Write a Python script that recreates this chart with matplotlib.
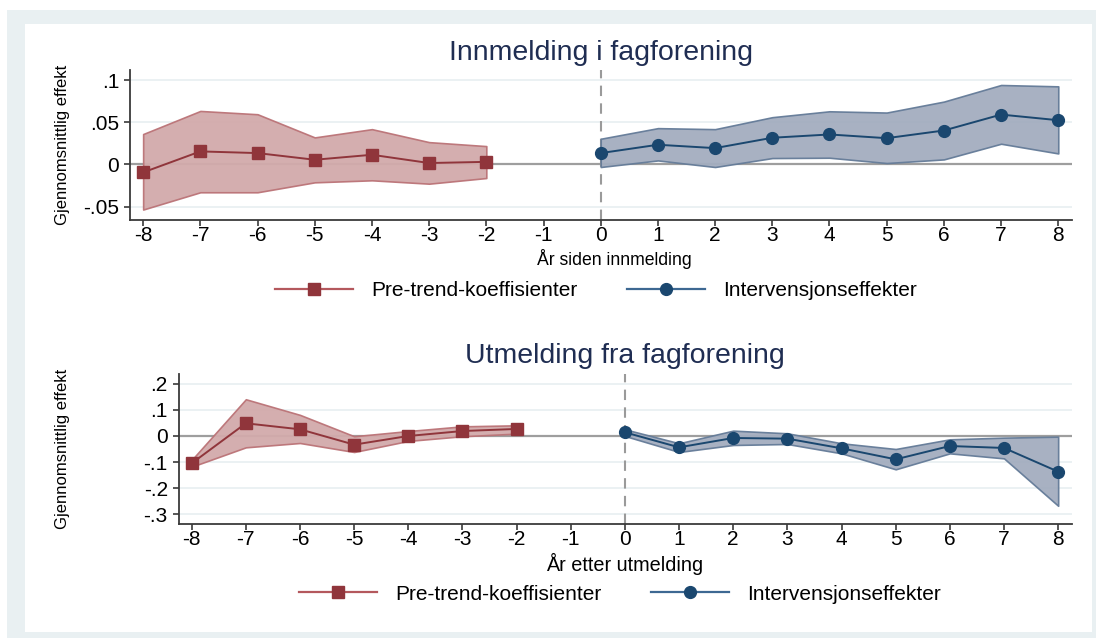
import matplotlib
matplotlib.use("Agg")
import matplotlib.pyplot as plt
from matplotlib.patches import Rectangle
from matplotlib.lines import Line2D

plt.rcParams['font.family'] = ['Liberation Sans', 'DejaVu Sans']

# ---- data: event-study coefficients with confidence bands ----
pre_years = [-8, -7, -6, -5, -4, -3, -2]
post_years = [0, 1, 2, 3, 4, 5, 6, 7, 8]

# Panel 1: joining a union
inn_pre = [-0.0095, 0.0154, 0.0134, 0.0055, 0.0114, 0.0016, 0.0030]
inn_pre_hi = [0.0360, 0.0634, 0.0595, 0.0320, 0.0418, 0.0264, 0.0217]
inn_pre_lo = [-0.0536, -0.0331, -0.0331, -0.0213, -0.0189, -0.0229, -0.0162]
inn_post = [0.0134, 0.0233, 0.0193, 0.0316, 0.0355, 0.0311, 0.0402, 0.0591, 0.0524]
inn_post_hi = [0.0304, 0.0430, 0.0418, 0.0560, 0.0630, 0.0615, 0.0745, 0.0942, 0.0926]
inn_post_lo = [-0.0031, 0.0047, -0.0031, 0.0075, 0.0079, 0.0016, 0.0059, 0.0245, 0.0130]

# Panel 2: leaving a union
ut_pre = [-0.105, 0.0487, 0.0256, -0.0333, 0.0000, 0.0190, 0.0270]
ut_pre_hi = [-0.092, 0.141, 0.081, -0.001, 0.019, 0.037, 0.041]
ut_pre_lo = [-0.118, -0.0436, -0.027, -0.0615, -0.019, -0.001, 0.009]
ut_post = [0.014, -0.0436, -0.0077, -0.0103, -0.0474, -0.0897, -0.0385, -0.046, -0.137]
ut_post_hi = [0.0256, -0.028, 0.0205, 0.0103, -0.028, -0.050, -0.0128, -0.0064, -0.0026]
ut_post_lo = [0.000, -0.0615, -0.0346, -0.0308, -0.0667, -0.128, -0.0667, -0.086, -0.268]

x_ticks = list(range(-8, 9))
inn_yticks = [-0.05, 0, 0.05, 0.1]
inn_yticklabels = ["-.05", "0", ".05", ".1"]
ut_yticks = [-0.3, -0.2, -0.1, 0, 0.1, 0.2]
ut_yticklabels = ["-.3", "-.2", "-.1", "0", ".1", ".2"]

titles = ["Innmelding i fagforening", "Utmelding fra fagforening"]
xlabels = ["År siden innmelding", "År etter utmelding"]
ylabel = "Gjennomsnittlig effekt"
legend_labels = ["Pre-trend-koeffisienter", "Intervensjonseffekter"]

# ---- styling ----
RED = "#90353b"
RED_FILL = "#d2aaab"
RED_EDGE = "#bb7377"
RED_LEG = "#b4585d"
BLUE = "#1a476f"
BLUE_FILL = "#a3adbf"
BLUE_EDGE = "#647b98"
BLUE_LEG = "#3d6892"
TITLE_C = "#1f2d52"
GRID_C = "#e9f0f2"
SPINE_C = "#3a3a3a"

W, H = 1096, 638
fig = plt.figure(figsize=(W / 100, H / 100), dpi=100, facecolor="white")

# outer frame
fig.patches.append(Rectangle((7 / W, 0), 1 - 7 / W, 1 - 10 / H, transform=fig.transFigure,
                             facecolor="#e9f0f2", edgecolor="none", zorder=-2))
fig.patches.append(Rectangle((25 / W, 6 / H), (1092 - 25) / W, (632 - 24) / H,
                             transform=fig.transFigure, facecolor="white",
                             edgecolor="none", zorder=-1))


def px_axes(x0, y0, x1, y1):
    return fig.add_axes([x0 / W, 1 - y1 / H, (x1 - x0) / W, (y1 - y0) / H])


def draw_panel(ax, box, pre, pre_hi, pre_lo, post, post_hi, post_lo,
               yticks, yticklabels, ylim, xlim, title, title_y,
               xlabel, xlabel_pos, xlabel_size):
    x0, y0, x1, y1 = box
    ax.set_facecolor("none")
    for yt in yticks:
        ax.axhline(yt, color=GRID_C, lw=1.3, zorder=0)
    ax.axhline(0, color="#9e9e9e", lw=1.6, zorder=1)
    ax.axvline(0, color="#9a9a9a", lw=1.5, ls=(0, (5, 3.5)), zorder=1)

    ax.fill_between(pre_years, pre_lo, pre_hi, facecolor=RED_FILL,
                    edgecolor=RED_EDGE, lw=1.2, alpha=0.95, zorder=2)
    ax.fill_between(post_years, post_lo, post_hi, facecolor=BLUE_FILL,
                    edgecolor=BLUE_EDGE, lw=1.2, alpha=0.95, zorder=2)
    ax.plot(pre_years, pre, color=RED, lw=1.4, marker="s", ms=8.5,
            mec=RED, mfc=RED, zorder=3)
    ax.plot(post_years, post, color=BLUE, lw=1.4, marker="o", ms=8.5,
            mec=BLUE, mfc=BLUE, zorder=3)

    ax.set_xlim(*xlim)
    ax.set_ylim(*ylim)
    ax.set_xticks(x_ticks)
    ax.set_xticklabels([str(v) for v in x_ticks])
    ax.set_yticks(yticks)
    ax.set_yticklabels(yticklabels)
    for s in ["top", "right"]:
        ax.spines[s].set_visible(False)
    for s in ["left", "bottom"]:
        ax.spines[s].set_color(SPINE_C)
        ax.spines[s].set_linewidth(1.3)
    ax.tick_params(axis="both", direction="out", length=4.3, width=1.2,
                   color=SPINE_C, labelsize=15)
    ax.tick_params(axis="x", pad=0)
    ax.tick_params(axis="y", pad=3.5)
    fig.text((x0 + x1) / 2 / W, 1 - title_y / H, title, fontsize=20.5,
             color=TITLE_C, ha="center", va="center")
    ax.set_xlabel(xlabel, fontsize=xlabel_size, va="center")
    lx, ly = xlabel_pos
    ax.xaxis.set_label_coords((lx - x0) / (x1 - x0), (y1 - ly) / (y1 - y0))
    ax.set_ylabel(ylabel, fontsize=12, va="center")
    ax.yaxis.set_label_coords((62 - x0) / (x1 - x0), 0.5)


box1 = (130, 70, 1072, 220)
ax1 = px_axes(*box1)
draw_panel(ax1, box1, inn_pre, inn_pre_hi, inn_pre_lo, inn_post, inn_post_hi, inn_post_lo,
           inn_yticks, inn_yticklabels, (-0.066, 0.112), (-8.23, 8.24),
           titles[0], 53, xlabels[0], (614, 259), 12.7)

box2 = (178.7, 374, 1071.7, 524)
ax2 = px_axes(*box2)
draw_panel(ax2, box2, ut_pre, ut_pre_hi, ut_pre_lo, ut_post, ut_post_hi, ut_post_lo,
           ut_yticks, ut_yticklabels, (-0.338, 0.238), (-8.24, 8.25),
           titles[1], 356, xlabels[1], (625, 564), 14.3)

handles = [
    Line2D([], [], color=RED_LEG, lw=1.6, marker="s", ms=8.5, mfc=RED, mec=RED),
    Line2D([], [], color=BLUE_LEG, lw=1.6, marker="o", ms=8.5, mfc=BLUE, mec=BLUE),
]
for cx, cy in [(596, 291), (620, 594)]:
    fig.legend(handles, legend_labels, loc="center", ncol=2,
               bbox_to_anchor=(cx / W, 1 - cy / H), frameon=False,
               fontsize=15, handlelength=3.75, handletextpad=0.9,
               columnspacing=2.35)

fig.savefig("out.png", dpi=100, facecolor="white")
